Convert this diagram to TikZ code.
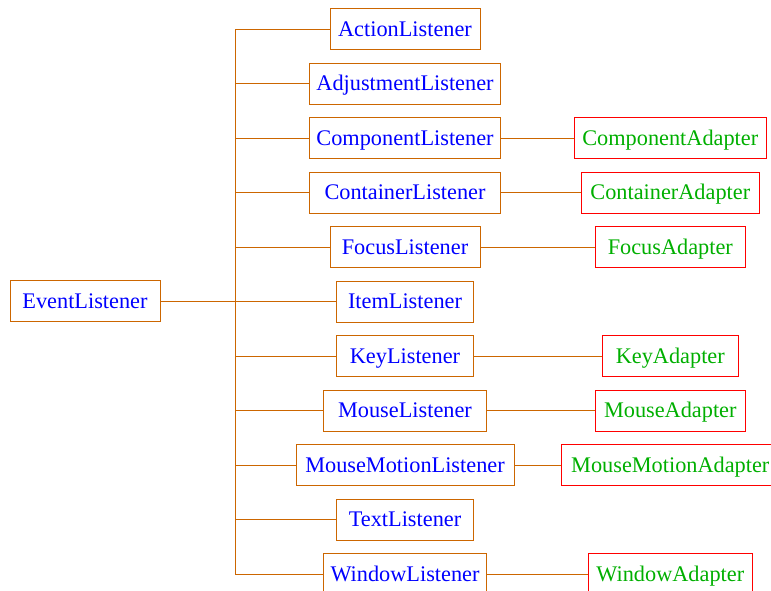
\documentclass[tikz,border=0pt]{standalone}
\usepackage{fontspec}
\setmainfont{Liberation Serif}
\definecolor{brn}{RGB}{204,102,0}
\definecolor{grn}{RGB}{0,175,0}
\tikzset{
  lis/.style={draw=brn, line width=1pt, text=blue, minimum height=41, inner sep=0pt, text height=18pt, text depth=4pt, font=\fontsize{22.3}{25}\selectfont},
  ada/.style={draw=red, line width=1pt, text=grn, minimum height=41, inner sep=0pt, text height=18pt, text depth=4pt, font=\fontsize{22.3}{25}\selectfont},
  wire/.style={draw=brn, line width=1pt}
}
\begin{document}
\begin{tikzpicture}[x=1pt,y=1pt,yscale=-1]
	\useasboundingbox (0,0) rectangle (771,590);
	\clip (0,0) rectangle (771,590);
	
	% root
	\node [lis, minimum width=150] (ev) at (85,301) {EventListener};
	\coordinate (tr) at (235,301);
	\draw [wire] (ev.east) -- (tr);
	
	% listeners
	\foreach \i/\w/\name in {1/150/Action,2/191/Adjustment,3/191/Component,4/191/Container,5/150/Focus,6/137/Item,7/137/Key,8/163/Mouse,9/218/MouseMotion,10/137/Text,11/163/Window}
	{
		\coordinate (t\i) at (235,{29+54.5*(\i-1)});
		\node [lis, minimum width=\w] (L\i) at (405,{29+54.5*(\i-1)}) {\name Listener};
		\draw [wire] (t\i) -- (L\i.west);
	}
	\draw [wire] (t1) -- (t11);
	
	% adapters
	\foreach \i/\w/\name in {3/192/Component,4/178/Container,5/150/Focus,7/136/Key,8/150/Mouse,9/217/MouseMotion,11/164/Window}
	{
		\node [ada, minimum width=\w] (A\i) at (670.3,{29+54.5*(\i-1)}) {\name Adapter};
		\draw [wire] (L\i.east) -- (A\i.west);
	}
\end{tikzpicture}
\end{document}
